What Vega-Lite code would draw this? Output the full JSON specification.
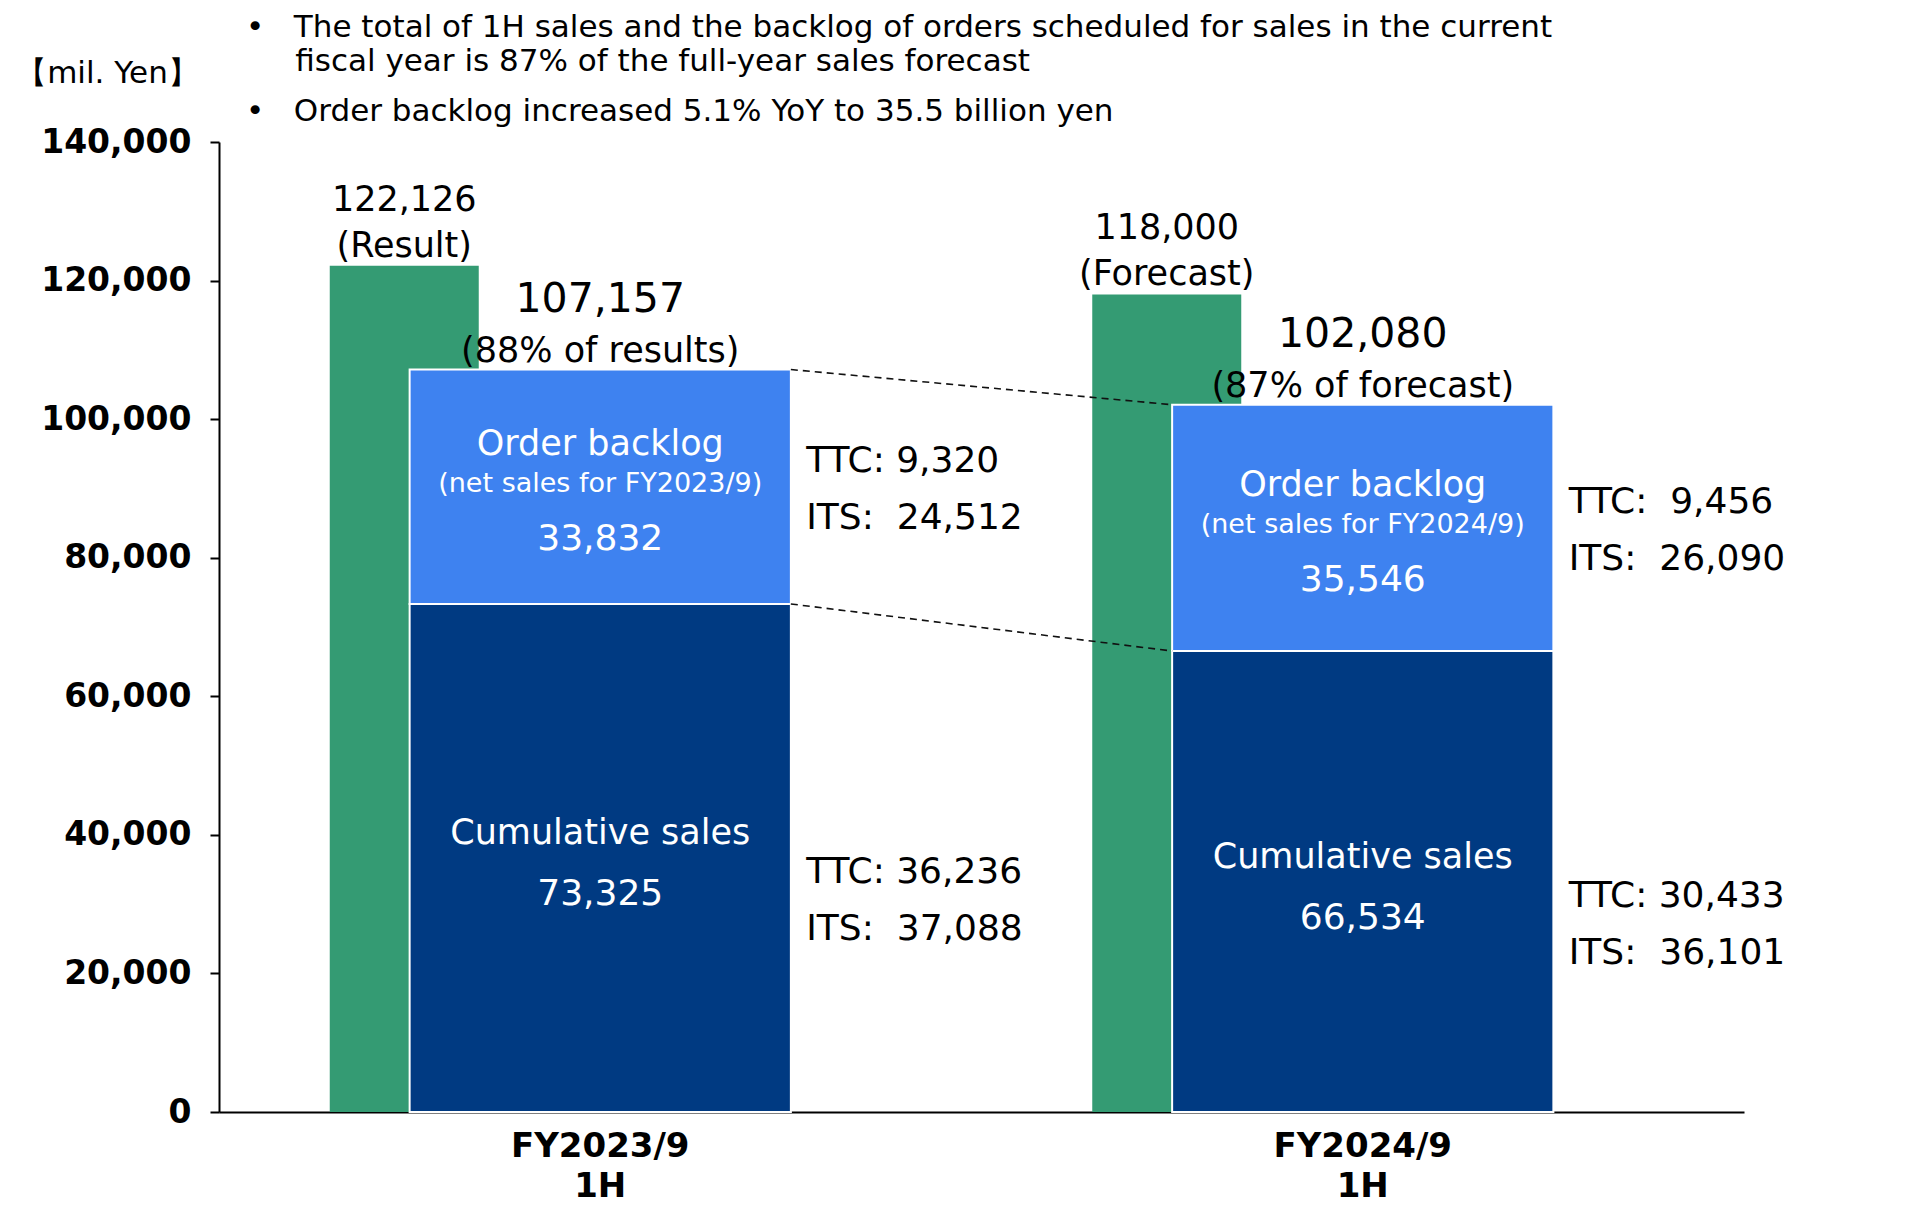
{
  "$schema": "https://vega.github.io/schema/vega-lite/v6.json",
  "width": 1525,
  "height": 970,
  "autosize": {"type": "none"},
  "padding": {"left": 219, "top": 142, "right": 164, "bottom": 95},
  "background": "white",
  "config": {
    "view": {"stroke": null},
    "font": "DejaVu Sans",
    "axis": {"grid": false, "domainColor": "#000", "domainWidth": 2, "labelColor": "#000", "labelFont": "DejaVu Sans", "labelFontWeight": "bold", "labelFontSize": 33, "titleColor": "#000"}
  },
  "title": {
    "text": ["•\u00a0\u00a0\u00a0The total of 1H sales and the backlog of orders scheduled for sales in the current", "\u200b\u00a0\u00a0\u00a0\u00a0\u00a0fiscal year is 87% of the full-year sales forecast"],
    "subtitle": "•\u00a0\u00a0\u00a0Order backlog increased 5.1% YoY to 35.5 billion yen",
    "anchor": "start",
    "frame": "group",
    "orient": "top",
    "font": "DejaVu Sans",
    "fontSize": 31,
    "fontWeight": "normal",
    "color": "#000",
    "subtitleFont": "DejaVu Sans",
    "subtitleFontSize": 31,
    "subtitleFontWeight": "normal",
    "subtitleColor": "#000",
    "lineHeight": 34,
    "subtitleLineHeight": 34,
    "subtitlePadding": 19,
    "offset": 0,
    "dx": 27,
    "dy": 71
  },
  "datasets": {
    "bars": [
      {"cat": "FY2023/9 1H", "seg": "Cumulative sales", "lo": 0, "hi": 73325, "value": 73325, "sub": "", "ttc": "TTC: 36,236", "its": "ITS:\u00a0\u00a037,088"},
      {"cat": "FY2023/9 1H", "seg": "Order backlog", "lo": 73325, "hi": 107157, "value": 33832, "sub": "(net sales for FY2023/9)", "ttc": "TTC: 9,320", "its": "ITS:\u00a0\u00a024,512"},
      {"cat": "FY2024/9 1H", "seg": "Cumulative sales", "lo": 0, "hi": 66534, "value": 66534, "sub": "", "ttc": "TTC: 30,433", "its": "ITS:\u00a0\u00a036,101"},
      {"cat": "FY2024/9 1H", "seg": "Order backlog", "lo": 66534, "hi": 102080, "value": 35546, "sub": "(net sales for FY2024/9)", "ttc": "TTC:\u00a0\u00a09,456", "its": "ITS:\u00a0\u00a026,090"}
    ],
    "green": [
      {"cat": "FY2023/9 1H", "value": 122126, "note": "(Result)"},
      {"cat": "FY2024/9 1H", "value": 118000, "note": "(Forecast)"}
    ],
    "totals": [
      {"cat": "FY2023/9 1H", "total": 107157, "note": "(88% of results)"},
      {"cat": "FY2024/9 1H", "total": 102080, "note": "(87% of forecast)"}
    ],
    "links": [
      {"from": "FY2023/9 1H", "to": "FY2024/9 1H", "y1": 107157, "y2": 102080},
      {"from": "FY2023/9 1H", "to": "FY2024/9 1H", "y1": 73325, "y2": 66534}
    ]
  },
  "layer": [
    {
      "data": {"name": "green"},
      "mark": {"type": "bar", "color": "#349B73", "width": 149, "xOffset": -196},
      "encoding": {
        "x": {
          "field": "cat", "type": "nominal",
          "scale": {"type": "band", "domain": ["FY2023/9 1H", "FY2024/9 1H"], "paddingInner": 0.5, "paddingOuter": 0.25},
          "axis": {"title": null, "labelExpr": "split(datum.value, ' ')", "labelAngle": 0, "ticks": false, "labelPadding": 17, "labelBaseline": "top", "labelLineHeight": 40, "labelFontSize": 34}
        },
        "y": {
          "field": "value", "type": "quantitative",
          "scale": {"domain": [0, 140000], "nice": false},
          "axis": {
            "values": [0, 20000, 40000, 60000, 80000, 100000, 120000, 140000],
            "labelExpr": "format(datum.value, ',')", "tickColor": "#000", "tickWidth": 2, "tickSize": 9, "labelPadding": 19,
            "title": "【mil. Yen】", "titleAngle": 0, "titleX": -112, "titleY": -69, "titleAlign": "center", "titleBaseline": "middle",
            "titleFont": "DejaVu Sans", "titleFontSize": 31, "titleFontWeight": "normal"
          }
        }
      }
    },
    {
      "data": {"name": "bars"},
      "mark": {"type": "bar", "stroke": "white", "strokeWidth": 2},
      "encoding": {
        "x": {"field": "cat", "type": "nominal", "scale": {"type": "band", "domain": ["FY2023/9 1H", "FY2024/9 1H"], "paddingInner": 0.5, "paddingOuter": 0.25}},
        "y": {"field": "lo", "type": "quantitative", "scale": {"domain": [0, 140000], "nice": false}},
        "y2": {"field": "hi"},
        "color": {"field": "seg", "type": "nominal", "scale": {"domain": ["Cumulative sales", "Order backlog"], "range": ["#003A82", "#3E82F0"]}, "legend": null}
      }
    },
    {
      "data": {"name": "links"},
      "mark": {"type": "rule", "strokeDash": [7, 5], "strokeWidth": 1.6, "color": "#111", "xOffset": 190.6, "x2Offset": -190.6},
      "encoding": {
        "x": {"field": "from", "type": "nominal", "scale": {"type": "band", "domain": ["FY2023/9 1H", "FY2024/9 1H"], "paddingInner": 0.5, "paddingOuter": 0.25}},
        "x2": {"field": "to"},
        "y": {"field": "y1", "type": "quantitative", "scale": {"domain": [0, 140000], "nice": false}},
        "y2": {"field": "y2"}
      }
    },
    {
      "data": {"name": "green"},
      "encoding": {
        "x": {"field": "cat", "type": "nominal"},
        "y": {"field": "value", "type": "quantitative"}
      },
      "layer": [
        {"mark": {"type": "text", "xOffset": -196, "dy": -66, "baseline": "middle", "fontSize": 35, "color": "#000"}, "encoding": {"text": {"field": "value", "type": "quantitative", "format": ","}}},
        {"mark": {"type": "text", "xOffset": -196, "dy": -20, "baseline": "middle", "fontSize": 35, "color": "#000"}, "encoding": {"text": {"field": "note"}}}
      ]
    },
    {
      "data": {"name": "totals"},
      "encoding": {
        "x": {"field": "cat", "type": "nominal"},
        "y": {"field": "total", "type": "quantitative"}
      },
      "layer": [
        {"mark": {"type": "text", "dy": -69.5, "baseline": "middle", "fontSize": 41, "color": "#000"}, "encoding": {"text": {"field": "total", "type": "quantitative", "format": ","}}},
        {"mark": {"type": "text", "dy": -19, "baseline": "middle", "fontSize": 35, "color": "#000"}, "encoding": {"text": {"field": "note"}}}
      ]
    },
    {
      "data": {"name": "bars"},
      "transform": [
        {"fold": ["lo", "hi"], "as": ["edge", "v"]},
        {"aggregate": [{"op": "mean", "field": "v", "as": "mid"}], "groupby": ["cat", "seg", "value", "sub", "ttc", "its"]}
      ],
      "encoding": {
        "x": {"field": "cat", "type": "nominal"},
        "y": {"field": "mid", "type": "quantitative"}
      },
      "layer": [
        {"transform": [{"filter": "datum.seg === 'Order backlog'"}], "mark": {"type": "text", "dy": -43, "baseline": "middle", "fontSize": 35, "color": "white"}, "encoding": {"text": {"field": "seg"}}},
        {"transform": [{"filter": "datum.seg === 'Order backlog'"}], "mark": {"type": "text", "dy": -3, "baseline": "middle", "fontSize": 27, "color": "white"}, "encoding": {"text": {"field": "sub"}}},
        {"transform": [{"filter": "datum.seg === 'Order backlog'"}], "mark": {"type": "text", "dy": 52, "baseline": "middle", "fontSize": 36, "color": "white"}, "encoding": {"text": {"field": "value", "type": "quantitative", "format": ","}}},
        {"transform": [{"filter": "datum.seg === 'Cumulative sales'"}], "mark": {"type": "text", "dy": -25, "baseline": "middle", "fontSize": 35, "color": "white"}, "encoding": {"text": {"field": "seg"}}},
        {"transform": [{"filter": "datum.seg === 'Cumulative sales'"}], "mark": {"type": "text", "dy": 36, "baseline": "middle", "fontSize": 36, "color": "white"}, "encoding": {"text": {"field": "value", "type": "quantitative", "format": ","}}},
        {"transform": [{"filter": "datum.seg === 'Order backlog'"}], "mark": {"type": "text", "xOffset": 206, "align": "left", "dy": -26, "baseline": "middle", "fontSize": 36, "color": "#000"}, "encoding": {"text": {"field": "ttc"}}},
        {"transform": [{"filter": "datum.seg === 'Order backlog'"}], "mark": {"type": "text", "xOffset": 206, "align": "left", "dy": 31, "baseline": "middle", "fontSize": 36, "color": "#000"}, "encoding": {"text": {"field": "its"}}},
        {"transform": [{"filter": "datum.seg === 'Cumulative sales'"}], "mark": {"type": "text", "xOffset": 206, "align": "left", "dy": 14, "baseline": "middle", "fontSize": 36, "color": "#000"}, "encoding": {"text": {"field": "ttc"}}},
        {"transform": [{"filter": "datum.seg === 'Cumulative sales'"}], "mark": {"type": "text", "xOffset": 206, "align": "left", "dy": 71, "baseline": "middle", "fontSize": 36, "color": "#000"}, "encoding": {"text": {"field": "its"}}}
      ]
    }
  ]
}
